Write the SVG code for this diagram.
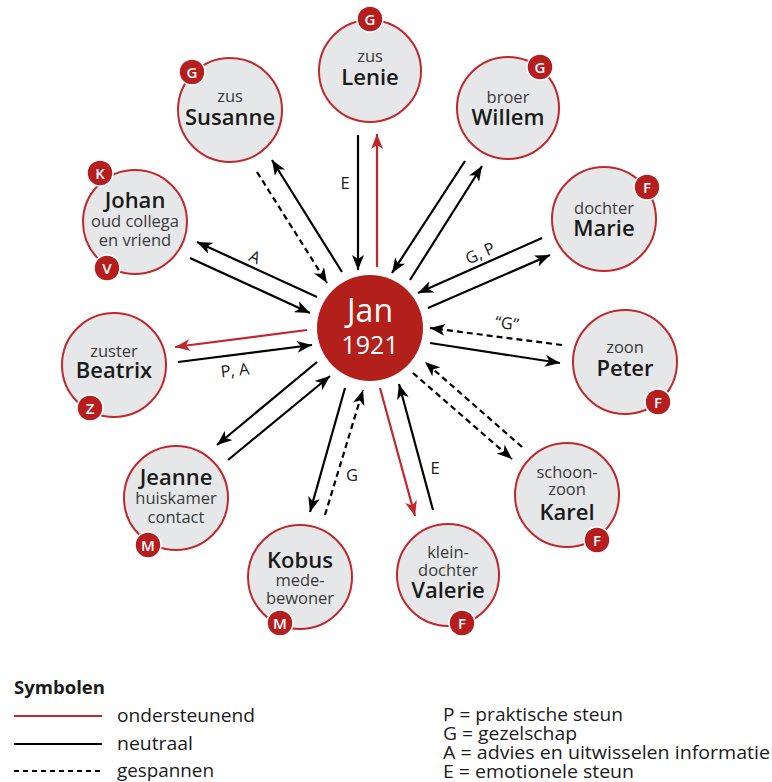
<svg xmlns="http://www.w3.org/2000/svg" width="772" height="782" viewBox="0 0 772 782">
<style>
text{font-family:"Open Sans","Noto Sans","Liberation Sans",sans-serif;}
.node{fill:#e6e7e9;stroke:#c1272d;stroke-width:2;}
.badge{fill:#b51d1f;stroke:#fff;stroke-width:1.5;}
.bl{fill:#fff;font-size:15px;font-weight:600;text-anchor:middle;}
.sub{fill:#3a3a3a;font-size:16.5px;text-anchor:middle;}
.name{fill:#1a1a1a;font-size:22px;font-weight:600;text-anchor:middle;}
.ln{stroke:#000;stroke-width:2.2;fill:none;}
.red{stroke:#c1272d;}
.dash{stroke-dasharray:6 4;}
.lab{fill:#1a1a1a;font-size:16.5px;text-anchor:middle;}
.leg{fill:#1a1a1a;font-size:18.5px;}
</style>
<defs>
<marker id="ab" markerUnits="userSpaceOnUse" markerWidth="16" markerHeight="12" refX="15" refY="6" orient="auto">
<path d="M0,0 L15,6 L0,12 L4,6 z" fill="#000"/>
</marker>
<marker id="ar" markerUnits="userSpaceOnUse" markerWidth="16" markerHeight="12" refX="15" refY="6" orient="auto">
<path d="M0,0 L15,6 L0,12 L4,6 z" fill="#c1272d"/>
</marker>
</defs>
<rect width="772" height="782" fill="#fff"/>

<g id="connectors">
<line class="ln" x1="358" y1="135" x2="358" y2="270" marker-end="url(#ab)"/>
<line class="ln red" x1="377" y1="267" x2="377" y2="134" marker-end="url(#ar)"/>
<line class="ln dash" x1="257" y1="172" x2="327" y2="283" marker-end="url(#ab)"/>
<line class="ln" x1="342" y1="272" x2="272" y2="160" marker-end="url(#ab)"/>
<line class="ln" x1="465" y1="161" x2="392" y2="273" marker-end="url(#ab)"/>
<line class="ln" x1="410" y1="280" x2="482" y2="166" marker-end="url(#ab)"/>
<line class="ln" x1="542" y1="238" x2="418" y2="293" marker-end="url(#ab)"/>
<line class="ln" x1="428" y1="308" x2="550" y2="255" marker-end="url(#ab)"/>
<line class="ln dash" x1="562" y1="345" x2="430" y2="328" marker-end="url(#ab)"/>
<line class="ln" x1="430" y1="343" x2="560" y2="363" marker-end="url(#ab)"/>
<line class="ln dash" x1="522" y1="447" x2="425" y2="362" marker-end="url(#ab)"/>
<line class="ln dash" x1="413" y1="373" x2="512" y2="459" marker-end="url(#ab)"/>
<line class="ln red" x1="380" y1="388" x2="415" y2="516" marker-end="url(#ar)"/>
<line class="ln" x1="433" y1="510" x2="399" y2="384" marker-end="url(#ab)"/>
<line class="ln" x1="345" y1="388" x2="310" y2="512" marker-end="url(#ab)"/>
<line class="ln dash" x1="325" y1="515" x2="363" y2="390" marker-end="url(#ab)"/>
<line class="ln" x1="317" y1="362" x2="217" y2="445" marker-end="url(#ab)"/>
<line class="ln" x1="228" y1="460" x2="330" y2="376" marker-end="url(#ab)"/>
<line class="ln red" x1="307" y1="330" x2="175" y2="347" marker-end="url(#ar)"/>
<line class="ln" x1="178" y1="362" x2="312" y2="345" marker-end="url(#ab)"/>
<line class="ln" x1="317" y1="297" x2="197" y2="242" marker-end="url(#ab)"/>
<line class="ln" x1="190" y1="258" x2="310" y2="313" marker-end="url(#ab)"/>

<text class="lab" x="345" y="189">E</text>
<text class="lab" x="255" y="263" transform="rotate(24 255 257)">A</text>
<text class="lab" x="480" y="259" transform="rotate(-24 480 253)">G, P</text>
<text class="lab" x="507" y="329" transform="rotate(7 507 323)">“G”</text>
<text class="lab" x="235" y="376" transform="rotate(-6 235 370)">P, A</text>
<text class="lab" x="352" y="481">G</text>
<text class="lab" x="435" y="474">E</text>
</g>

<g id="jan">
<circle cx="370" cy="328" r="53" fill="#b31f1b"/>
<text x="370" y="322" fill="#fff" font-size="32" text-anchor="middle">Jan</text>
<text x="370" y="354" fill="#fff" font-size="25" text-anchor="middle">1921</text>
</g>

<g id="lenie">
<circle class="node" cx="370" cy="71" r="51"/>
<text class="sub" x="370" y="62">zus</text>
<text class="name" x="370" y="85">Lenie</text>
<circle class="badge" cx="370" cy="19" r="13"/>
<text class="bl" x="370" y="24.5">G</text>
</g>

<g id="susanne">
<circle class="node" cx="230" cy="110" r="52"/>
<text class="sub" x="230" y="102">zus</text>
<text class="name" x="230" y="125">Susanne</text>
<circle class="badge" cx="192" cy="72" r="13"/>
<text class="bl" x="192" y="77.5">G</text>
</g>

<g id="willem">
<circle class="node" cx="508" cy="108" r="51"/>
<text class="sub" x="508" y="103">broer</text>
<text class="name" x="508" y="125">Willem</text>
<circle class="badge" cx="540" cy="67" r="13"/>
<text class="bl" x="540" y="72.5">G</text>
</g>

<g id="marie">
<circle class="node" cx="604" cy="219" r="52"/>
<text class="sub" x="604" y="214">dochter</text>
<text class="name" x="604" y="236">Marie</text>
<circle class="badge" cx="647" cy="187" r="13"/>
<text class="bl" x="647" y="192.5">F</text>
</g>

<g id="peter">
<circle class="node" cx="625" cy="362" r="52"/>
<text class="sub" x="625" y="353">zoon</text>
<text class="name" x="625" y="376">Peter</text>
<circle class="badge" cx="658" cy="402" r="13"/>
<text class="bl" x="658" y="407.5">F</text>
</g>

<g id="karel">
<circle class="node" cx="567" cy="495" r="52"/>
<text class="sub" x="567" y="478">schoon-</text>
<text class="sub" x="567" y="495">zoon</text>
<text class="name" x="567" y="520">Karel</text>
<circle class="badge" cx="597" cy="540" r="13"/>
<text class="bl" x="597" y="545.5">F</text>
</g>

<g id="valerie">
<circle class="node" cx="448" cy="575" r="51"/>
<text class="sub" x="448" y="558">klein-</text>
<text class="sub" x="448" y="576">dochter</text>
<text class="name" x="448" y="598">Valerie</text>
<circle class="badge" cx="462" cy="623" r="13"/>
<text class="bl" x="462" y="628.5">F</text>
</g>

<g id="kobus">
<circle class="node" cx="300" cy="577" r="52"/>
<text class="name" x="300" y="568">Kobus</text>
<text class="sub" x="300" y="586">mede-</text>
<text class="sub" x="300" y="604">bewoner</text>
<circle class="badge" cx="280" cy="623" r="13"/>
<text class="bl" x="280" y="628.5">M</text>
</g>

<g id="jeanne">
<circle class="node" cx="176" cy="498" r="52"/>
<text class="name" x="176" y="485">Jeanne</text>
<text class="sub" x="176" y="504">huiskamer</text>
<text class="sub" x="176" y="523">contact</text>
<circle class="badge" cx="148" cy="545" r="13"/>
<text class="bl" x="148" y="550.5">M</text>
</g>

<g id="beatrix">
<circle class="node" cx="114" cy="365" r="52"/>
<text class="sub" x="114" y="357">zuster</text>
<text class="name" x="114" y="378">Beatrix</text>
<circle class="badge" cx="90" cy="408" r="13"/>
<text class="bl" x="90" y="413.5">Z</text>
</g>

<g id="johan">
<circle class="node" cx="135" cy="222" r="52"/>
<text class="name" x="135" y="208">Johan</text>
<text class="sub" x="135" y="227">oud collega</text>
<text class="sub" x="135" y="246">en vriend</text>
<circle class="badge" cx="100" cy="173" r="13"/>
<text class="bl" x="100" y="178.5">K</text>
<circle class="badge" cx="107" cy="268" r="13"/>
<text class="bl" x="107" y="273.5">V</text>
</g>

<g id="legend">
<text class="leg" x="14" y="694" font-weight="700" textLength="91" lengthAdjust="spacingAndGlyphs">Symbolen</text>
<line class="ln red" x1="14" y1="716" x2="102" y2="716"/>
<text class="leg" x="117" y="722" textLength="138" lengthAdjust="spacingAndGlyphs">ondersteunend</text>
<line class="ln" x1="14" y1="744" x2="102" y2="744"/>
<text class="leg" x="117" y="750" textLength="76" lengthAdjust="spacingAndGlyphs">neutraal</text>
<line class="ln dash" x1="14" y1="771" x2="102" y2="771" style="stroke-dasharray:5 4"/>
<text class="leg" x="117" y="777" textLength="97" lengthAdjust="spacingAndGlyphs">gespannen</text>
<text class="leg" x="443" y="721" textLength="180" lengthAdjust="spacingAndGlyphs">P = praktische steun</text>
<text class="leg" x="443" y="740" textLength="134" lengthAdjust="spacingAndGlyphs">G = gezelschap</text>
<text class="leg" x="443" y="759" textLength="327" lengthAdjust="spacingAndGlyphs">A = advies en uitwisselen informatie</text>
<text class="leg" x="443" y="778" textLength="191" lengthAdjust="spacingAndGlyphs">E = emotionele steun</text>
</g>
</svg>
